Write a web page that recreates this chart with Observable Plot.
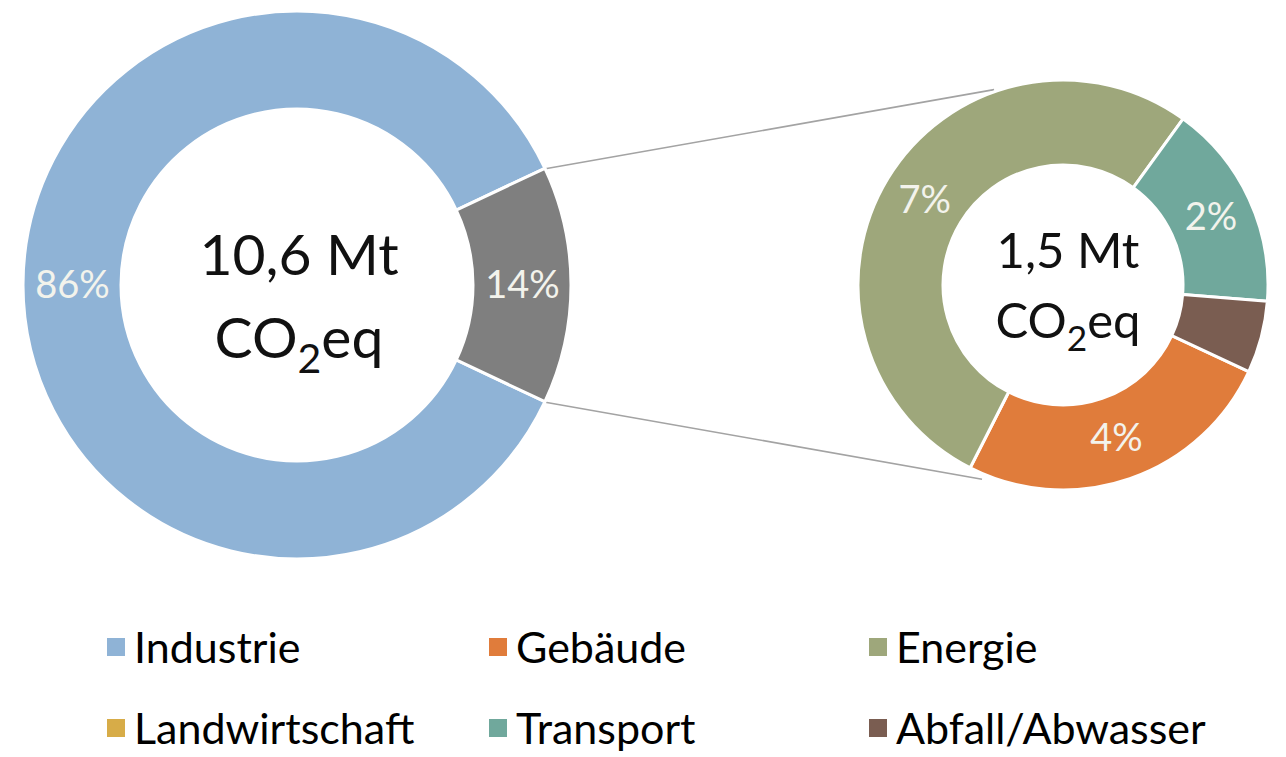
<!DOCTYPE html>
<html><head><meta charset="utf-8">
<script src="https://cdn.jsdelivr.net/npm/d3@7"></script>
<script src="https://cdn.jsdelivr.net/npm/@observablehq/plot@0.6"></script>
<style>
body{margin:0;background:#fff;font-family:Lato,"Open Sans",sans-serif;}
#chart{width:1286px;height:757px;position:relative;overflow:hidden;background:#fff}
#legend{position:absolute;left:0;top:600px;width:1286px;height:157px}
.item{position:absolute;display:flex;align-items:center;font-size:43px;line-height:40px;height:40px;color:#000;white-space:nowrap}
.sw{width:18px;height:18px;margin-right:9px;flex:none}
</style></head><body><div id="chart"></div>
<script>
// ---- data ----
const mainCategories = ["Industrie", "Übrige Sektoren"];
const mainValues = [86, 14];
const mainLabels = ["86%", "14%"];
const mainTotal = "10,6 Mt";

const subCategories = ["Gebäude", "Energie", "Landwirtschaft", "Transport", "Abfall/Abwasser"];
const subValues = [3.6, 7.4, 0, 2.3, 0.8];
const subLabels = ["4%", "7%", "", "2%", ""];
const subTotal = "1,5 Mt";

const legendCategories = ["Industrie", "Gebäude", "Energie", "Landwirtschaft", "Transport", "Abfall/Abwasser"];
const unitPrefix = "CO", unitSub = "2", unitSuffix = "eq";

// ---- styles / layout ----
const colorMap = {
  "Industrie": "#8FB3D6", "Übrige Sektoren": "#7F7F7F", "Gebäude": "#E07C3B",
  "Energie": "#9EA77B", "Landwirtschaft": "#D7AC48", "Transport": "#70A89C", "Abfall/Abwasser": "#7A5D51"
};
const W = 1286, H = 600;
const mainGeo = {cx: 297, cy: 285, R: 274, r: 176};
const subGeo = {cx: 1063, cy: 285, R: 205, r: 120};
const mainStart = Math.PI / 2 + Math.PI * mainValues[1] / d3.sum(mainValues);
const subStart = 115 * Math.PI / 180;

function layout(cats, vals, labels, start, g) {
  const arcs = d3.pie().sort(null).value(i => vals[i])
    .startAngle(start).endAngle(start + 2 * Math.PI)(d3.range(cats.length));
  return arcs.map(a => {
    const i = a.data, mid = (a.startAngle + a.endAngle) / 2, rm = (g.R + g.r) / 2;
    return {cat: cats[i], value: vals[i], label: labels[i], a0: a.startAngle, a1: a.endAngle, g,
      lx: g.cx + rm * Math.sin(mid), ly: g.cy - rm * Math.cos(mid)};
  }).filter(d => d.value > 0);
}
const mainSlices = layout(mainCategories, mainValues, mainLabels, mainStart, mainGeo);
const subSlices = layout(subCategories, subValues, subLabels, subStart, subGeo);
const allSlices = mainSlices.concat(subSlices);

// connector lines from the gray slice to the secondary donut (tangents)
const gray = mainSlices[1];
function edgePoint(g, a) { return {x: g.cx + g.R * Math.sin(a), y: g.cy - g.R * Math.cos(a)}; }
function tangentEnd(p, g, side, shorten) {
  const dx = g.cx - p.x, dy = g.cy - p.y, d = Math.hypot(dx, dy);
  const base = Math.atan2(dy, dx), off = Math.asin(g.R / d) * side;
  const L = Math.sqrt(d * d - g.R * g.R) * shorten;
  return {x: p.x + L * Math.cos(base + off), y: p.y + L * Math.sin(base + off)};
}
const pTop = edgePoint(mainGeo, gray.a0), pBot = edgePoint(mainGeo, gray.a1);
const eTop = tangentEnd(pTop, subGeo, -1, 0.93), eBot = tangentEnd(pBot, subGeo, 1, 0.905);
const connectors = [
  {x1: pTop.x, y1: pTop.y, x2: eTop.x, y2: eTop.y},
  {x1: pBot.x, y1: pBot.y, x2: eBot.x, y2: eBot.y}
];

const centers = [
  {x: 299, y1: 275, y2: 358, size: 57, total: mainTotal},
  {x: 1068, y1: 268, y2: 338, size: 49, total: subTotal}
];

const arcMark = (slices) => (index, scales) => {
  const g = d3.create("svg:g");
  const k = Math.abs(scales.x(1) - scales.x(0));
  for (const s of slices) {
    const cx = scales.x(s.g.cx), cy = scales.y(s.g.cy);
    const path = d3.arc().innerRadius(s.g.r * k).outerRadius(s.g.R * k)
      .startAngle(s.a0).endAngle(s.a1);
    g.append("path").attr("transform", `translate(${cx},${cy})`).attr("d", path())
      .attr("fill", colorMap[s.cat]).attr("stroke", "white").attr("stroke-width", 3)
      .attr("stroke-linejoin", "round");
  }
  return g.node();
};

const centerMark = (items) => (index, scales) => {
  const g = d3.create("svg:g").attr("font-family", "Lato, 'Open Sans', sans-serif")
    .attr("text-anchor", "middle").attr("fill", "#111");
  for (const it of items) {
    const x = scales.x(it.x);
    g.append("text").attr("x", x).attr("y", scales.y(it.y1)).attr("font-size", it.size).text(it.total);
    const t = g.append("text").attr("x", x).attr("y", scales.y(it.y2)).attr("font-size", it.size);
    t.append("tspan").text(unitPrefix);
    t.append("tspan").attr("font-size", it.size * 0.72).attr("dy", it.size * 0.26).text(unitSub);
    t.append("tspan").attr("dy", -it.size * 0.26).text(unitSuffix);
  }
  return g.node();
};

const plot = Plot.plot({
  width: W, height: H, margin: 0,
  x: {domain: [0, W], range: [0, W], axis: null},
  y: {domain: [0, H], range: [0, H], axis: null},
  style: {background: "transparent", fontFamily: "Lato, 'Open Sans', sans-serif"},
  marks: [
    Plot.link(connectors, {x1: "x1", y1: "y1", x2: "x2", y2: "y2", stroke: "#A3A3A3", strokeWidth: 1.6}),
    arcMark(allSlices),
    Plot.text(allSlices.filter(d => d.label), {x: "lx", y: "ly", text: "label",
      fill: "#F3F3EC", fontSize: 38, fontFamily: "Lato, 'Open Sans', sans-serif"}),
    centerMark(centers)
  ]
});

const chart = document.getElementById("chart");
chart.appendChild(plot);

// legend (HTML, below the SVG)
const legend = document.createElement("div");
legend.id = "legend";
const colX = [107, 489, 869], rowTop = [27, 108];
legendCategories.forEach((c, i) => {
  const it = document.createElement("div");
  it.className = "item";
  it.style.left = colX[i % 3] + "px";
  it.style.top = rowTop[Math.floor(i / 3)] + "px";
  const sw = document.createElement("span");
  sw.className = "sw"; sw.style.background = colorMap[c];
  const tx = document.createElement("span");
  tx.textContent = c;
  it.appendChild(sw); it.appendChild(tx);
  legend.appendChild(it);
});
chart.appendChild(legend);
</script></body></html>
